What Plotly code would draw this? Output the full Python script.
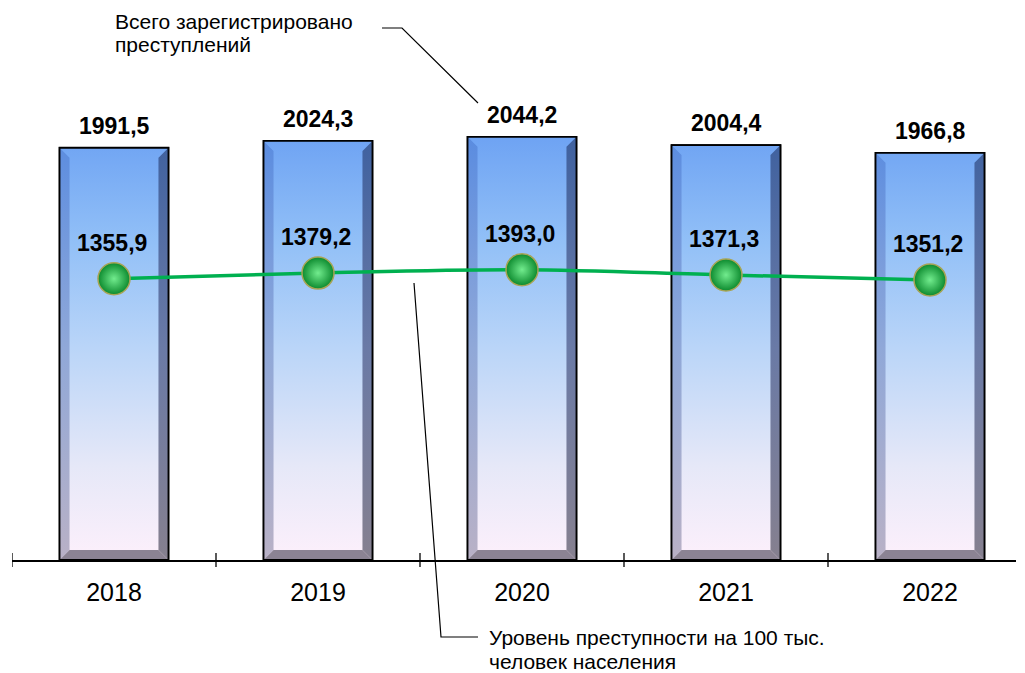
import plotly.graph_objects as go

# ---------------- data ----------------
years = ["2018", "2019", "2020", "2021", "2022"]
crimes_total = [1991.5, 2024.3, 2044.2, 2004.4, 1966.8]
crime_rate = [1355.9, 1379.2, 1393.0, 1371.3, 1351.2]
total_labels = ["1991,5", "2024,3", "2044,2", "2004,4", "1966,8"]
rate_labels = ["1355,9", "1379,2", "1393,0", "1371,3", "1351,2"]
note_total = ["Всего зарегистрировано", "преступлений"]
note_rate = ["Уровень преступности на 100 тыс.", "человек населения"]

# ---------------- layout geometry ----------------
OFF = 8                  # page body margin of the html page
W, H = 1025 - OFF, 673 - OFF
ML, MR, MT, MB = 12 - OFF, 9, 20 - OFF, 113
PW, PH = W - ML - MR, H - MT - MB
SLOT_PX = 204.0          # pixels per category
Y_PX = 0.207             # pixels per unit on bar axis
Y2_PX = 0.245            # pixels per unit on rate axis
Y2_BASE = 208.0
BAR_W = 0.534            # bar width in category units
x_range = [-0.5, -0.5 + PW / SLOT_PX]
y_range = [0, PH / Y_PX]
y2_range = [Y2_BASE, Y2_BASE + PH / Y2_PX]
BX = 10 / SLOT_PX        # bevel width (x units)
BY = 10 / Y_PX           # bevel height (y units)

FONT = "Liberation Sans, Arial, sans-serif"


def px_to_paper(px, py):
    # px, py: pixel position in the browser window
    px, py = px - OFF, py - OFF
    return (px - ML) / PW, (H - MB - py) / PH


xs = list(range(len(years)))

# polygons derived from data values
face_x, face_y = [], []
left_x, left_y = [], []
right_x, right_y = [], []
bot_x, bot_y = [], []
for i, v in zip(xs, crimes_total):
    x0, x1 = i - BAR_W / 2, i + BAR_W / 2
    face_x += [x0, x1, x1, x0, x0, None]
    face_y += [0, 0, v, v, 0, None]
    left_x += [x0, x0 + BX, x0 + BX, x0, x0, None]
    left_y += [0, BY, v - BY, v, 0, None]
    right_x += [x1, x1 - BX, x1 - BX, x1, x1, None]
    right_y += [0, BY, v - BY, v, 0, None]
    bot_x += [x0, x1, x1 - BX, x0 + BX, x0, None]
    bot_y += [0, 0, BY, BY, 0, None]

vmax = max(crimes_total)
fig = go.Figure()

# real bar trace (base)
fig.add_trace(go.Bar(x=xs, y=crimes_total, width=BAR_W,
                     marker=dict(color="#a9cdf7", line=dict(color="black", width=1.5)),
                     hoverinfo="y", showlegend=False))

fig.add_trace(go.Scatter(
    x=face_x, y=face_y, mode="lines", fill="toself", line=dict(width=0),
    fillgradient=dict(type="vertical", start=0, stop=vmax,
                      colorscale=[[0, "#fdf0fb"], [0.22, "#e6e8f8"], [0.5, "#bad5f8"],
                                  [0.75, "#92c0f7"], [1, "#6ea3f3"]]),
    hoverinfo="skip", showlegend=False))
fig.add_trace(go.Scatter(
    x=left_x, y=left_y, mode="lines", fill="toself", line=dict(width=0),
    fillgradient=dict(type="vertical", start=0, stop=vmax,
                      colorscale=[[0, "#b9b1c6"], [0.5, "#90a8d8"], [1, "#5a8ce0"]]),
    hoverinfo="skip", showlegend=False))
fig.add_trace(go.Scatter(
    x=right_x, y=right_y, mode="lines", fill="toself", line=dict(width=0),
    fillgradient=dict(type="vertical", start=0, stop=vmax,
                      colorscale=[[0, "#86808f"], [0.5, "#6a7aa6"], [1, "#3f619f"]]),
    hoverinfo="skip", showlegend=False))
fig.add_trace(go.Scatter(
    x=bot_x, y=bot_y, mode="lines", fill="toself", line=dict(width=0),
    fillcolor="#8b8393", hoverinfo="skip", showlegend=False))
# outlines
fig.add_trace(go.Scatter(x=face_x, y=face_y, mode="lines", line=dict(color="black", width=1.8),
                         hoverinfo="skip", showlegend=False))

# rate line
fig.add_trace(go.Scatter(
    x=xs, y=crime_rate, yaxis="y2", mode="lines+markers",
    line=dict(color="#00b050", width=3.5, shape="spline", smoothing=1),
    marker=dict(size=32, color="#0c8a2e",
                gradient=dict(type="radial", color="#72ec8e"),
                line=dict(color="#a8a455", width=1.5)),
    hoverinfo="y", showlegend=False))

annotations = []
for i, v, t in zip(xs, crimes_total, total_labels):
    annotations.append(dict(x=i, y=v, xref="x", yref="y", text=t, showarrow=False,
                            yshift=22, font=dict(family=FONT, size=23, color="black", weight="bold")))
for i, r, t in zip(xs, crime_rate, rate_labels):
    annotations.append(dict(x=i, y=r, xref="x", yref="y2", text=t, showarrow=False,
                            yshift=36, xshift=-2, font=dict(family=FONT, size=23, color="black", weight="bold")))

for k, line in enumerate(note_total):
    px, py = px_to_paper(113, 21 + 24 * k)
    annotations.append(dict(x=px, y=py, xref="paper", yref="paper", text=line, showarrow=False,
                            xanchor="left", yanchor="middle", font=dict(family=FONT, size=21, color="black")))
for k, line in enumerate(note_rate):
    px, py = px_to_paper(487, 637 + 24 * k)
    annotations.append(dict(x=px, y=py, xref="paper", yref="paper", text=line, showarrow=False,
                            xanchor="left", yanchor="middle", font=dict(family=FONT, size=21, color="black")))

shapes = []
# crossing tick marks at category boundaries
for i in xs:
    shapes.append(dict(type="line", xref="x", yref="paper", x0=i - 0.5, x1=i - 0.5,
                       y0=-7 / PH, y1=7 / PH, line=dict(color="black", width=1.3)))


def path(points):
    pts = [px_to_paper(*p) for p in points]
    return "M " + " L ".join(f"{a:.5f},{b:.5f}" for a, b in pts)


shapes.append(dict(type="path", xref="paper", yref="paper",
                   path=path([(382, 28), (402, 28), (478, 103)]), line=dict(color="black", width=1.2)))
shapes.append(dict(type="path", xref="paper", yref="paper",
                   path=path([(414, 283), (441, 637), (478, 637)]), line=dict(color="black", width=1.2)))

fig.update_layout(
    width=W, height=H,
    margin=dict(l=ML, r=MR, t=MT, b=MB),
    paper_bgcolor="white", plot_bgcolor="white",
    showlegend=False,
    xaxis=dict(range=x_range, tickvals=xs, ticktext=years, ticks="", showgrid=False, zeroline=False,
               showline=True, linecolor="black", linewidth=1.5, ticklabelstandoff=9,
               tickfont=dict(family=FONT, size=25, color="black"), fixedrange=True),
    yaxis=dict(range=y_range, visible=False, fixedrange=True),
    yaxis2=dict(range=y2_range, overlaying="y", visible=False, fixedrange=True),
    annotations=annotations,
    shapes=shapes,
)

fig.write_html("out.html")
